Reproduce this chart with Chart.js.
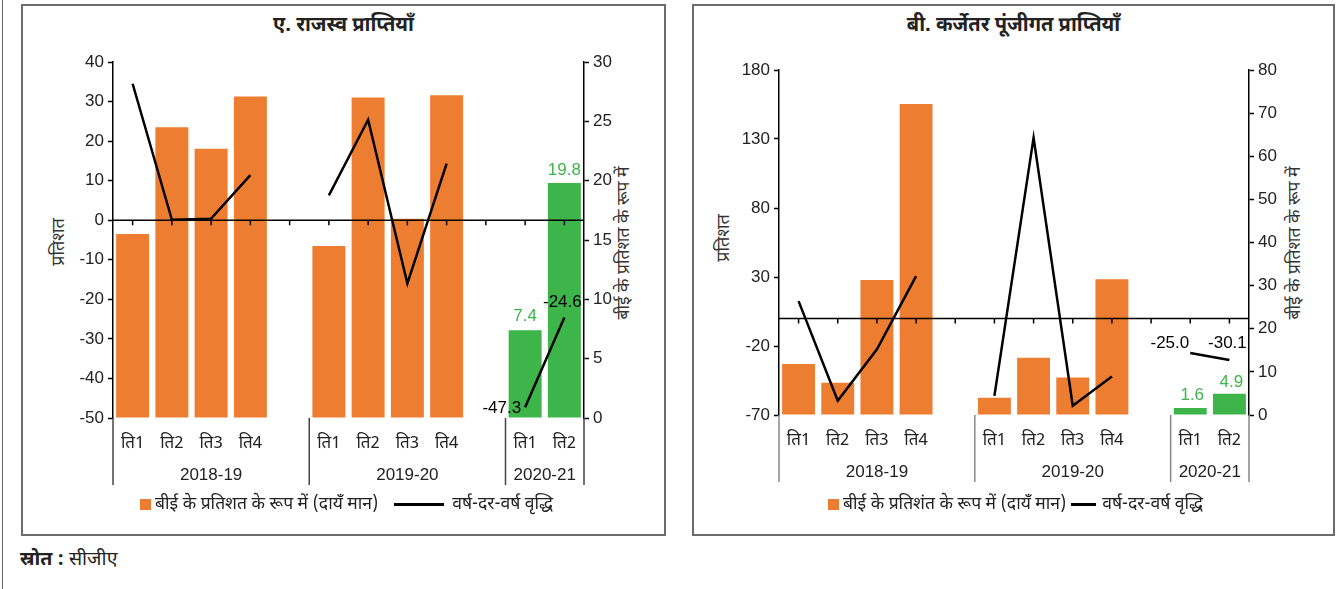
<!DOCTYPE html>
<html>
<head>
<meta charset="utf-8">
<script src="https://cdn.jsdelivr.net/npm/chart.js@4.4.1/dist/chart.umd.min.js"></script>
<style>
	body { margin: 0; background: #fff; width: 1336px; height: 589px; position: relative; overflow: hidden;
		font-family: 'Noto Sans Devanagari', 'Lohit Devanagari', 'FreeSans', 'Liberation Sans', sans-serif; color: #222; }
	.edge { position: absolute; left: 2px; top: 0; width: 1px; height: 589px; background: #666; }
	.panel { position: absolute; top: 4px; height: 532px; border: 2px solid #6b6b6b; box-sizing: border-box; }
	.title { position: absolute; top: 13px; font-size: 20px; font-weight: bold; text-align: center; color: #222; }
	.ytitle { position: absolute; font-size: 18px; color: #333; white-space: nowrap; transform: translate(-50%, -50%) rotate(-90deg); }
	.legend { position: absolute; top: 493px; font-size: 17.5px; white-space: nowrap; color: #222; }
	.legend span { display: inline-block; vertical-align: middle; }
	.sq { width: 11px; height: 11px; background: #ED7D31; margin-right: 4px; }
	.ln { height: 3px; background: #000; }
	canvas { position: absolute; }
	.source { position: absolute; left: 20px; top: 548px; font-size: 19.5px; color: #222; }
</style>
</head>
<body>
<div class="edge"></div>
<div class="panel" style="left:21px;width:645px"></div>
<div class="panel" style="left:692px;width:643px"></div>

<div class="title" style="left:21px;width:645px">ए. राजस्व प्राप्तियाँ</div>
<div class="title" style="left:692px;width:643px">बी. कर्जेतर पूंजीगत प्राप्तियाँ</div>

<div class="ytitle" style="left:59px;top:242px">प्रतिशत</div>
<div class="ytitle" style="left:624px;top:243px;font-size:17.5px">बीई के प्रतिशत के रूप में</div>
<div class="ytitle" style="left:724px;top:238px">प्रतिशत</div>
<div class="ytitle" style="left:1295px;top:243px;font-size:17.5px">बीई के प्रतिशत के रूप में</div>

<canvas id="revenueChart" width="638" height="462" style="left:24px;top:38px"></canvas>
<canvas id="capitalChart" width="638" height="462" style="left:695px;top:38px"></canvas>

<div class="legend" style="left:140px"><span class="sq"></span><span>बीई के प्रतिशत के रूप में (दायँ मान)</span><span class="ln" style="width:50px;margin:0 8px 0 16px"></span><span>वर्ष-दर-वर्ष वृद्धि</span></div>
<div class="legend" style="left:828px"><span class="sq"></span><span>बीई के प्रतिशंत के रूप में (दायँ मान)</span><span class="ln" style="width:25px;margin:0 6px 0 5px"></span><span>वर्ष-दर-वर्ष वृद्धि</span></div>

<div class="source"><b>स्रोत :</b> सीजीए</div>

<script>
// categories (blank slot between years)
const quarterLabels = ["ति1", "ति2", "ति3", "ति4", "", "ति1", "ति2", "ति3", "ति4", "", "ति1", "ति2"];
const yearLabels = ["2018-19", "2019-20", "2020-21"];
const yearSpans = [5, 5, 2];

// A. revenue receipts
const revenueShare = [15.5, 24.5, 22.7, 27.1, null, 14.5, 27.0, 16.8, 27.2, null, 7.4, 19.8];
const revenueGrowth = [34.5, 0.1, 0.4, 11.4, null, 6.3, 25.4, -16.0, 14.3, null, -47.3, -24.6];
const revenueLeftTicks = [-50, 40, 10];
const revenueRightTicks = [0, 30, 5];

// B. non-debt capital receipts
const capitalShare = [11.8, 7.5, 31.3, 72.1, null, 4.0, 13.3, 8.7, 31.5, null, 1.6, 4.9];
const capitalGrowth = [12.5, -59.7, -22.4, 30.6, null, -56.1, 131.0, -63.3, -42.1, null, -25.0, -30.1];
const capitalLeftTicks = [-70, 180, 50];
const capitalRightTicks = [0, 80, 10];

const ORANGE = "#ED7D31";
const GREEN = "#3DB54A";
const NUM_FONT = "'Liberation Sans', 'Noto Sans', sans-serif";
const DEV_FONT = "'Noto Sans Devanagari', 'Lohit Devanagari', 'FreeSans', 'Liberation Sans', sans-serif";

const groupPlugin = {
	id: "groups",
	afterDatasetDraw(chart, args) {
		if (args.meta.type !== "bar") return;
		const ctx = chart.ctx;
		const area = chart.chartArea;
		const y0 = chart.scales.y.getPixelForValue(0);
		ctx.save();
		ctx.strokeStyle = "#000";
		ctx.lineWidth = 1.5;
		ctx.beginPath();
		ctx.moveTo(area.left, y0);
		ctx.lineTo(area.right, y0);
		chart.data.labels.forEach((l, i) => {
			const x = chart.scales.x.getPixelForValue(i);
			ctx.moveTo(x, y0);
			ctx.lineTo(x, y0 + 5);
		});
		ctx.stroke();
		ctx.restore();
	},
	afterDraw(chart, args, opts) {
		const ctx = chart.ctx;
		const xs = chart.scales.x;
		const bottom = chart.chartArea.bottom;
		const half = (xs.getPixelForValue(1) - xs.getPixelForValue(0)) / 2;
		ctx.save();
		ctx.strokeStyle = opts.sepColor;
		ctx.lineWidth = 1.5;
		ctx.fillStyle = "#222";
		ctx.font = "17px " + NUM_FONT;
		ctx.textAlign = "center";
		ctx.textBaseline = "middle";
		let start = 0;
		yearLabels.forEach((name, g) => {
			const left = xs.getPixelForValue(start) - half;
			const right = xs.getPixelForValue(start + yearSpans[g] - 1) + half;
			ctx.beginPath();
			ctx.moveTo(left, bottom);
			ctx.lineTo(left, bottom + 67);
			if (g === yearLabels.length - 1) {
				ctx.moveTo(right, bottom);
				ctx.lineTo(right, bottom + 67);
			}
			ctx.stroke();
			ctx.fillText(name, (left + right) / 2, bottom + 57);
			start += yearSpans[g];
		});
		ctx.restore();
	},
	afterDatasetsDraw(chart, args, opts) {
		const ctx = chart.ctx;
		ctx.save();
		ctx.font = "17px " + NUM_FONT;
		ctx.textBaseline = "middle";
		opts.labels.forEach(lb => {
			const el = chart.getDatasetMeta(lb.ds).data[lb.i];
			const v = chart.data.datasets[lb.ds].data[lb.i];
			ctx.fillStyle = lb.color;
			ctx.textAlign = lb.align;
			ctx.fillText(v.toFixed(1), el.x + lb.dx, el.y + lb.dy);
		});
		ctx.restore();
	}
};

function makeChart(id, share, growth, leftTicks, rightTicks, sizes, labelSpots, sepColor) {
	const ctx = document.getElementById(id).getContext("2d");
	return new Chart(ctx, {
		type: "bar",
		data: {
			labels: quarterLabels,
			datasets: [{
				type: "line",
				data: growth,
				borderColor: "#000",
				borderWidth: 2.5,
				pointRadius: 0,
				tension: 0,
				spanGaps: false,
				yAxisID: "y",
				order: 0
			}, {
				type: "bar",
				data: share,
				backgroundColor: c => (c.dataIndex >= 10 ? GREEN : ORANGE),
				barPercentage: 0.84,
				categoryPercentage: 1,
				yAxisID: "y1",
				order: 1
			}]
		},
		options: {
			responsive: false,
			animation: false,
			layout: { padding: { top: sizes.top, left: 0, right: 0, bottom: 0 } },
			plugins: {
				legend: { display: false },
				tooltip: { enabled: false },
				groups: { labels: labelSpots, sepColor: sepColor }
			},
			scales: {
				x: {
					grid: { display: false },
					border: { display: false },
					ticks: { color: "#222", font: { family: DEV_FONT, size: 17 }, padding: 9, maxRotation: 0, autoSkip: false },
					afterFit: s => { s.height = sizes.bottom; }
				},
				y: {
					position: "left",
					min: leftTicks[0],
					max: leftTicks[1],
					ticks: { stepSize: leftTicks[2], color: "#222", font: { family: NUM_FONT, size: 17 }, padding: 4 },
					grid: { drawOnChartArea: false, tickLength: 5, tickColor: "#000", tickWidth: 1.5 },
					border: { color: "#000", width: 1.5 },
					afterFit: s => { s.width = sizes.left; }
				},
				y1: {
					position: "right",
					min: rightTicks[0],
					max: rightTicks[1],
					ticks: { stepSize: rightTicks[2], color: "#222", font: { family: NUM_FONT, size: 17 }, padding: 4 },
					grid: { drawOnChartArea: false, tickLength: 5, tickColor: "#000", tickWidth: 1.5 },
					border: { color: "#000", width: 1.5 },
					afterFit: s => { s.width = sizes.right; }
				}
			}
		},
		plugins: [groupPlugin]
	});
}

makeChart("revenueChart", revenueShare, revenueGrowth, revenueLeftTicks, revenueRightTicks,
	{ top: 24, left: 89, right: 78, bottom: 82 },
	[
		{ ds: 1, i: 10, dx: 0, dy: -14, align: "center", color: GREEN },
		{ ds: 1, i: 11, dx: 0, dy: -13, align: "center", color: GREEN },
		{ ds: 0, i: 10, dx: -4, dy: 1, align: "right", color: "#000" },
		{ ds: 0, i: 11, dx: -2, dy: -15, align: "center", color: "#000" }
	], "#444");

makeChart("capitalChart", capitalShare, capitalGrowth, capitalLeftTicks, capitalRightTicks,
	{ top: 32, left: 84, right: 84, bottom: 85 },
	[
		{ ds: 1, i: 10, dx: 2, dy: -13, align: "center", color: GREEN },
		{ ds: 1, i: 11, dx: 2, dy: -12, align: "center", color: GREEN },
		{ ds: 0, i: 10, dx: -1, dy: -10, align: "right", color: "#000" },
		{ ds: 0, i: 11, dx: -2, dy: -17, align: "center", color: "#000" }
	], "#888");
</script>
</body>
</html>
